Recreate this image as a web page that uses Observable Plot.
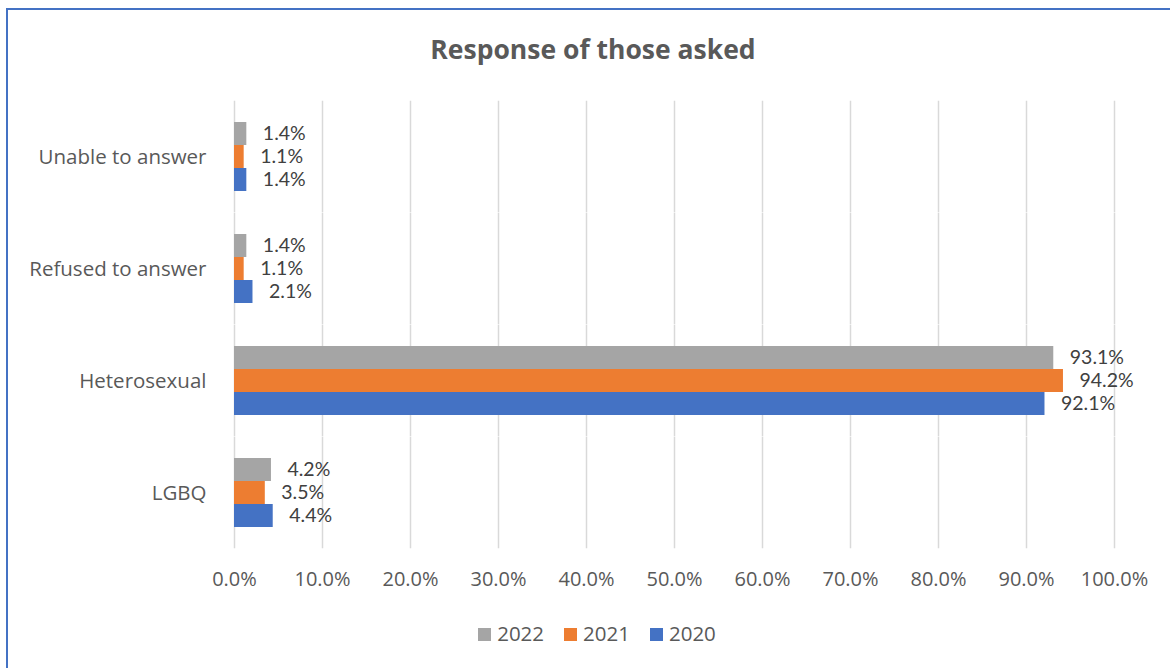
<!DOCTYPE html>
<html>
<head>
<meta charset="utf-8">
<script src="https://cdn.jsdelivr.net/npm/d3@7"></script>
<script src="https://cdn.jsdelivr.net/npm/@observablehq/plot@0.6"></script>
<style>
  html, body { margin: 0; padding: 0; background: #fff; }
  #wrap { position: relative; width: 1170px; height: 668px; overflow: hidden; font-family: "Open Sans", sans-serif; }
  #border { position: absolute; left: 6px; top: 8px; width: 1200px; height: 700px; border-left: 2px solid #4472C4; border-top: 2px solid #4472C4; box-sizing: border-box; pointer-events: none; }
  #title { height: 76px; box-sizing: border-box; padding-top: 35px; text-align: center; font-size: 26.5px; line-height: 28px; font-weight: 700; color: #595959; padding-left: 16px; }
  #chart svg { display: block; }
  #legend { height: 68px; box-sizing: border-box; padding-top: 23px; padding-left: 24px; display: flex; justify-content: center; align-items: flex-start; font-size: 20.5px; line-height: 20px; color: #595959; }
  .item { display: flex; align-items: center; margin: 0 10px; }
  .sw { width: 13px; height: 13px; margin-right: 6px; margin-top: 3px; }
</style>
</head>
<body>
<div id="wrap">
  <div id="border"></div>
  <div id="title">Response of those asked</div>
  <div id="chart"></div>
  <div id="legend"></div>
</div>
<script>
const categories = ["Unable to answer", "Refused to answer", "Heterosexual", "LGBQ"];
const years = ["2022", "2021", "2020"];
const values2022 = [1.4, 1.4, 93.1, 4.2];
const values2021 = [1.1, 1.1, 94.2, 3.5];
const values2020 = [1.4, 2.1, 92.1, 4.4];
const xTicks = [0, 10, 20, 30, 40, 50, 60, 70, 80, 90, 100];
const colors = ["#A5A5A5", "#ED7D31", "#4472C4"];

const series = {"2022": values2022, "2021": values2021, "2020": values2020};
const data = categories.flatMap((c, i) => years.map(y => ({cat: c, year: y, value: series[y][i]})));
const pct = d => d.toFixed(1) + "%";

const W = 1170, H = 524, mL = 234, mR = 56, mT = 25, mB = 51;
const padIn = 0.38, padOut = 0.19;
// half of the gap between facet bands, so grid lines run continuously through the plot area
const step = (H - mT - mB) / (categories.length - padIn + 2 * padOut);
const halfGap = step * padIn / 2;

const chart = Plot.plot({
  width: W,
  height: H,
  marginLeft: mL,
  marginRight: mR,
  marginTop: mT,
  marginBottom: mB,
  style: {fontFamily: "'Open Sans', sans-serif", fontSize: "20px", color: "#595959", background: "white"},
  x: {domain: [0, 100], ticks: xTicks, tickFormat: pct},
  fy: {domain: categories, paddingInner: padIn, paddingOuter: padOut, label: null},
  y: {domain: years, padding: 0, axis: null},
  color: {domain: years, range: colors},
  marks: [
    Plot.ruleX(xTicks, {x: d => d, stroke: "#d9d9d9", strokeWidth: 1.5, insetTop: -halfGap, insetBottom: -halfGap}),
    Plot.barX(data, {x: "value", y: "year", fy: "cat", fill: "year"}),
    Plot.text(data, {x: "value", y: "year", fy: "cat", text: d => pct(d.value), textAnchor: "start", dx: 16, fill: "#404040", fontSize: 19.5, fontFamily: "Lato, sans-serif"}),
    Plot.axisX({ticks: xTicks, tickFormat: pct, tickSize: 0, tickPadding: 23 + halfGap, label: null, fill: "#595959"}),
    Plot.axisFy({tickSize: 0, tickPadding: 28, label: null, anchor: "left", fill: "#595959", fontSize: 20.5})
  ]
});
document.getElementById("chart").appendChild(chart);

const legend = document.getElementById("legend");
years.forEach((y, i) => {
  const item = document.createElement("div");
  item.className = "item";
  const sw = document.createElement("div");
  sw.className = "sw";
  sw.style.background = colors[i];
  const t = document.createElement("span");
  t.textContent = y;
  item.appendChild(sw);
  item.appendChild(t);
  legend.appendChild(item);
});
</script>
</body>
</html>
